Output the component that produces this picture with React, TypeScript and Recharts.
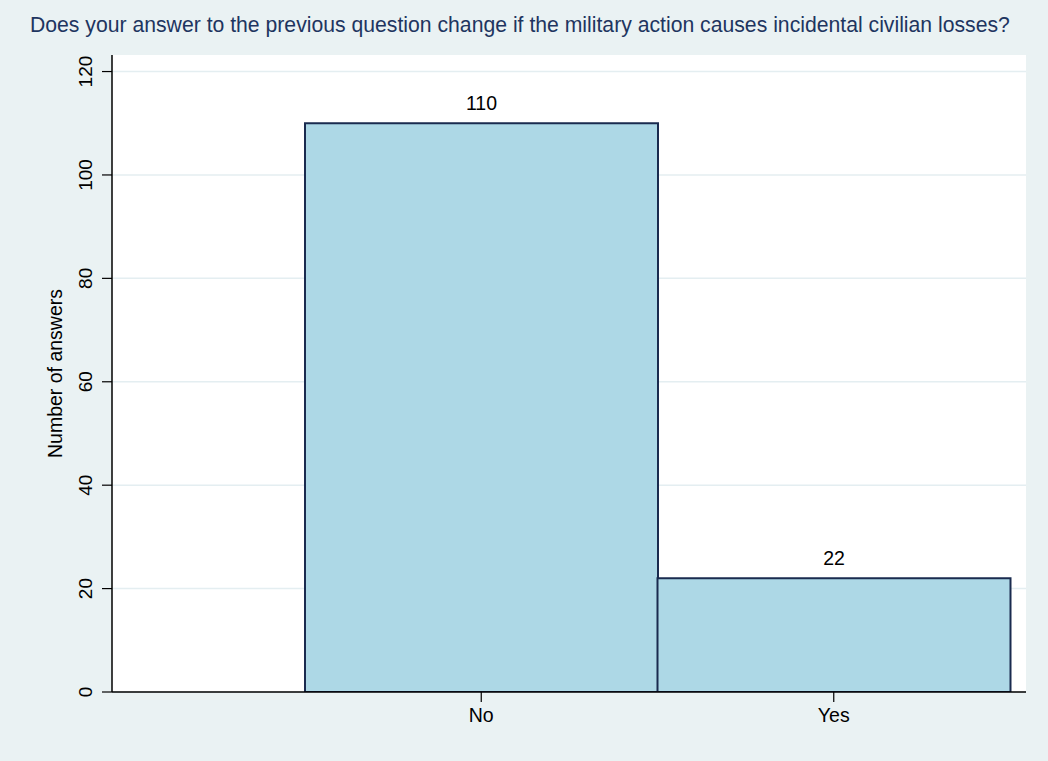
import React from "react";
import { BarChart, Bar, XAxis, YAxis, CartesianGrid, LabelList, Label } from "recharts";

const categories = ["No", "Yes"];
const answers = [110, 22];
const yTicks = [0, 20, 40, 60, 80, 100, 120];

const title =
  "Does your answer to the previous question change if the military action causes incidental civilian losses?";

const FONT = "'Liberation Sans', Arial, Helvetica, sans-serif";
const BG = "#eaf2f3";
const NAVY = "#1a2b4f";

const data = categories.map((c, i) => ({ category: c, value: answers[i] }));

// y tick labels are drawn vertical, like Stata does
const VerticalTick = (props: any) => {
  const { x, y, payload } = props;
  return (
    <text
      x={x}
      y={y}
      transform={`rotate(-90, ${x}, ${y})`}
      textAnchor="middle"
      fontSize={19}
      fontFamily={FONT}
      fill="#000"
    >
      {payload.value}
    </text>
  );
};

export default function App() {
  return (
    <div
      style={{
        position: "absolute",
        left: 0,
        top: 0,
        width: 1048,
        height: 761,
        background: BG,
        fontFamily: FONT,
      }}
    >
      <div
        style={{
          position: "absolute",
          left: 30,
          top: 12,
          fontSize: 21.2,
          color: "#1e3560",
          whiteSpace: "nowrap",
          lineHeight: "26px",
        }}
      >
        {title}
      </div>
      <div style={{ position: "absolute", left: 0, top: 0 }}>
        <BarChart
          width={1048}
          height={761}
          data={data}
          margin={{ top: 55, right: 22, bottom: 0, left: 0 }}
          barCategoryGap={0}
        >
          <CartesianGrid
            vertical={false}
            stroke="#e4eef1"
            strokeWidth={1.5}
            fill="#ffffff"
            horizontalValues={yTicks}
          />
          <XAxis
            dataKey="category"
            height={69}
            padding={{ left: 193, right: 16 }}
            tickSize={10}
            tickMargin={6}
            axisLine={{ stroke: "#000", strokeWidth: 1.5 }}
            tickLine={{ stroke: "#000", strokeWidth: 1.2 }}
            tick={{ fontSize: 19.5, fill: "#000", fontFamily: FONT }}
          />
          <YAxis
            width={112}
            domain={[0, 123.2]}
            ticks={yTicks}
            allowDataOverflow
            tickSize={10}
            tickMargin={10}
            axisLine={{ stroke: "#000", strokeWidth: 1.5 }}
            tickLine={{ stroke: "#000", strokeWidth: 1.2 }}
            tick={<VerticalTick />}
          >
            <Label
              content={(p: any) => {
                const vb = p.viewBox;
                const lx = vb.x + 62;
                const ly = vb.y + vb.height / 2;
                return (
                  <text
                    x={lx}
                    y={ly}
                    transform={`rotate(-90, ${lx}, ${ly})`}
                    textAnchor="middle"
                    fontSize={19.5}
                    fontFamily={FONT}
                    fill="#000"
                  >
                    Number of answers
                  </text>
                );
              }}
            />
          </YAxis>
          <Bar
            dataKey="value"
            fill="#add8e6"
            stroke={NAVY}
            strokeWidth={2}
            isAnimationActive={false}
          >
            <LabelList
              dataKey="value"
              position="top"
              offset={13}
              fontSize={19.5}
              fontFamily={FONT}
              fill="#000"
            />
          </Bar>
        </BarChart>
      </div>
    </div>
  );
}
